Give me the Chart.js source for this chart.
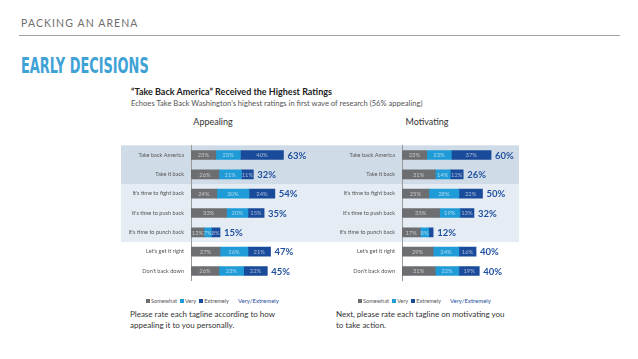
<!DOCTYPE html>
<html>
<head>
<meta charset="utf-8">
<script src="https://cdn.jsdelivr.net/npm/chart.js@4.4.1/dist/chart.umd.min.js"></script>
<style>
  body { margin: 0; background: #fff; font-family: Lato, 'Open Sans', sans-serif; }
  #page { position: relative; width: 638px; height: 359px; overflow: hidden; }
  .abs { position: absolute; white-space: nowrap; }
  #kicker { left: 21px; top: 17px; font-size: 10.5px; letter-spacing: 1.1px; color: #6f6f6f; }
  #rule { left: 19px; top: 35px; width: 601px; height: 1px; background: #a3a3a3; }
  #title { left: 21px; top: 54px; font-family: 'Liberation Sans Narrow', 'DejaVu Sans Condensed', sans-serif; font-weight: bold; font-size: 22px; line-height: 24px; color: #3ea2d5; transform-origin: left top; }
  #sub1 { left: 131px; top: 86px; font-size: 9px; font-weight: bold; color: #222; }
  #sub2 { left: 131px; top: 98px; font-size: 7.6px; color: #555; }
  .panelTitle { top: 116px; font-size: 9px; color: #333; transform: translateX(-50%); }
  .chartBox { position: absolute; top: 135px; width: 199px; height: 156px; }
  .legend { top: 297px; font-size: 5.6px; color: #555; }
  .legend span.sw { display: inline-block; width: 4px; height: 4px; margin: 0 1px 0 3px; vertical-align: 0px; }
  .legend .tot { color: #1f4f9e; margin-left: 9px; font-size: 6px; }
  .note { top: 309px; font-size: 8px; line-height: 10.5px; color: #333; }
</style>
</head>
<body>
<div id="page">
  <div class="abs" id="kicker">PACKING AN ARENA</div>
  <div class="abs" id="rule"></div>
  <div class="abs" id="title">EARLY DECISIONS</div>
  <div class="abs" id="sub1">“Take Back America” Received the Highest Ratings</div>
  <div class="abs" id="sub2">Echoes Take Back Washington’s highest ratings in first wave of research (56% appealing)</div>

  <div class="abs panelTitle" style="left:213px;">Appealing</div>
  <div class="abs panelTitle" style="left:427px;">Motivating</div>

  <div class="chartBox" style="left:121px;"><canvas id="appealChart"></canvas></div>
  <div class="chartBox" style="left:320px;"><canvas id="motivChart"></canvas></div>

  <div class="abs legend" id="legendLeft" style="left:143px;"></div>
  <div class="abs legend" id="legendRight" style="left:355px;"></div>

  <div class="abs note" style="left:130px;">Please rate each tagline according to how<br>appealing it to you personally.</div>
  <div class="abs note" style="left:336px;">Next, please rate each tagline on motivating you<br>to take action.</div>
</div>

<script>
// Taglines and ratings (% of respondents)
const taglines = ['Take back America', 'Take it back', "It's time to fight back", "It's time to push back",
  "It's time to punch back", "Let's get it right", "Don't back down"];
const seriesNames = ['Somewhat', 'Very', 'Extremely'];
const seriesColors = ['#6d6e71', '#1f9bd7', '#1a4a9a'];

const appealSomewhat  = [23, 26, 24, 33, 12, 27, 26];
const appealVery      = [23, 21, 30, 20, 7, 26, 23];
const appealExtremely = [40, 11, 24, 15, 8, 21, 22];
const appealTop2      = [63, 32, 54, 35, 15, 47, 45];

const motivSomewhat  = [23, 31, 25, 35, 17, 29, 31];
const motivVery      = [23, 14, 28, 19, 8, 24, 22];
const motivExtremely = [37, 12, 22, 13, 4, 16, 19];
const motivTop2      = [60, 26, 50, 32, 12, 40, 40];

// rows grouped on shaded bands
const bandRows = [[0, 1], [2, 4]];
const bandColors = ['#cfdbe7', '#e5ecf4'];

// fit the condensed headline to its width
const title = document.getElementById('title');
title.style.transform = 'scaleX(' + (128 / title.offsetWidth) + ')';

// legends
['legendLeft', 'legendRight'].forEach(id => {
  document.getElementById(id).innerHTML = seriesNames.map((n, i) =>
    `<span class="sw" style="background:${seriesColors[i]}"></span>${n}`).join('') +
    '<span class="tot">Very/Extremely</span>';
});

const bandsPlugin = {
  id: 'bands',
  beforeDraw(chart) {
    const { ctx } = chart;
    const y = chart.scales.y;
    const half = (y.getPixelForValue(1) - y.getPixelForValue(0)) / 2;
    ctx.save();
    bandRows.forEach(([a, b], i) => {
      const top = y.getPixelForValue(a) - half;
      const bottom = y.getPixelForValue(b) + half;
      ctx.fillStyle = bandColors[i];
      ctx.fillRect(0, top, chart.width, bottom - top);
    });
    ctx.restore();
  }
};

const labelsPlugin = {
  id: 'barLabels',
  afterDatasetsDraw(chart, args, opts) {
    const { ctx } = chart;
    ctx.save();
    ctx.textBaseline = 'middle';
    chart.data.datasets.forEach((ds, di) => {
      chart.getDatasetMeta(di).data.forEach((el, i) => {
        const w = el.x - el.base;
        if (w < 6) return;
        ctx.font = '5.8px Lato';
        ctx.fillStyle = 'rgba(255,255,255,0.6)';
        ctx.textAlign = 'center';
        ctx.fillText(ds.data[i] + '%', (el.x + el.base) / 2, el.y + 0.5);
      });
    });
    const last = chart.getDatasetMeta(chart.data.datasets.length - 1).data;
    ctx.font = 'bold 9.5px Lato';
    ctx.fillStyle = '#1f4f9e';
    ctx.textAlign = 'left';
    last.forEach((el, i) => {
      ctx.fillText(opts.totals[i] + '%', el.x + 4, el.y + 0.5);
    });
    ctx.restore();
  }
};

function makeChart(id, somewhat, very, extremely, totals, axisWidth, xMax) {
  const sets = [somewhat, very, extremely];
  new Chart(document.getElementById(id), {
    type: 'bar',
    data: {
      labels: taglines,
      datasets: sets.map((d, i) => ({ label: seriesNames[i], data: d, backgroundColor: seriesColors[i], barThickness: 9 }))
    },
    options: {
      indexAxis: 'y',
      responsive: true,
      maintainAspectRatio: false,
      animation: false,
      layout: { padding: 0 },
      plugins: { legend: { display: false }, tooltip: { enabled: false }, barLabels: { totals } },
      scales: {
        x: { stacked: true, display: false, min: 0, max: xMax },
        y: {
          stacked: true,
          grid: { display: false, drawTicks: false },
          border: { display: true, color: '#9a9a9a', width: 1, dash: [2, 2] },
          ticks: { color: '#555', font: { family: 'Lato', size: 5.6 }, padding: 7 },
          afterFit(s) { s.width = axisWidth; }
        }
      }
    },
    plugins: [bandsPlugin, labelsPlugin]
  });
}

makeChart('appealChart', appealSomewhat, appealVery, appealExtremely, appealTop2, 70, 120);
makeChart('motivChart', motivSomewhat, motivVery, motivExtremely, motivTop2, 82, 109);
</script>
</body>
</html>
